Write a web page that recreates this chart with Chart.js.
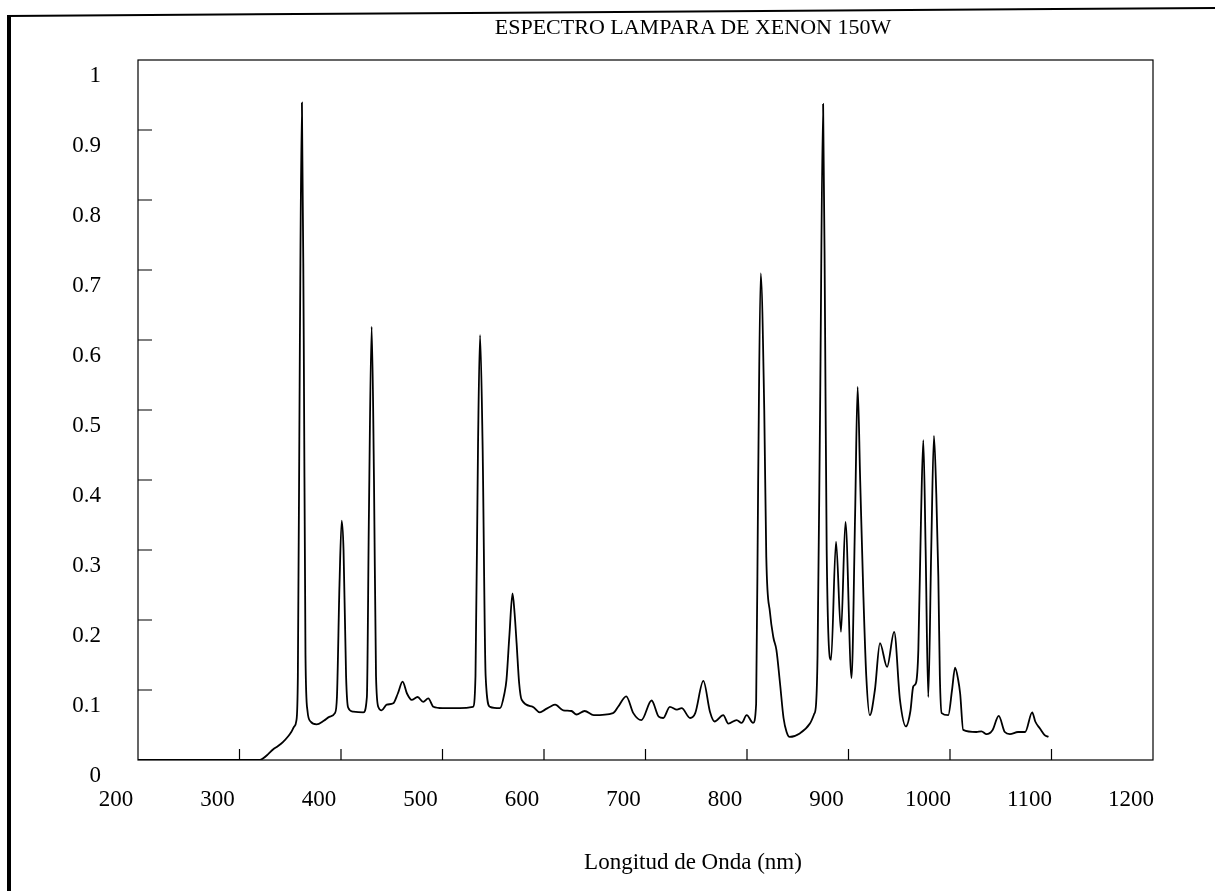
<!DOCTYPE html>
<html>
<head>
<meta charset="utf-8">
<title>Espectro lampara de xenon 150W</title>
<script src="https://cdn.jsdelivr.net/npm/chart.js@4.4.1/dist/chart.umd.min.js"></script>
<style>
  html, body { margin: 0; padding: 0; background: #fff; }
  #wrap { position: relative; width: 1215px; height: 891px; overflow: hidden;
          font-family: 'Liberation Serif', 'Times New Roman', serif; color: #000; }
  /* scanned page edges: thick left side, thin slightly tilted top */
  .edge-left { position: absolute; left: 7px; top: 15px; width: 4px; bottom: 0; background: #000; }
  .edge-top { position: absolute; left: 7px; top: 15px; width: 1215px; height: 2px; background: #000;
              transform-origin: 0 0; transform: rotate(-0.38deg); }
  canvas { position: absolute; left: 0; top: 0; }
  .title { position: absolute; white-space: nowrap; transform: translateX(-50%); line-height: 1.2; }
  #chartTitle { left: 693px; top: 14px; font-size: 22px; }
  #xTitle { left: 693px; top: 848px; font-size: 23px; }
</style>
</head>
<body>
<div id="wrap">
  <div class="edge-left"></div>
  <div class="edge-top"></div>
  <canvas id="spectrum" width="1215" height="891"></canvas>
  <div class="title" id="chartTitle">ESPECTRO LAMPARA DE XENON 150W</div>
  <div class="title" id="xTitle">Longitud de Onda (nm)</div>
</div>
<script>
// Data (wavelength in nm, relative intensity)
const wavelengths = [
  200, 320, 323, 328, 333, 338, 343, 348, 351, 354, 356,
  357.5, 359.5, 361.5, 363.3, 365, 367, 370, 376, 383, 389, 394,
  396, 398.5, 400.7, 402.5, 405, 407, 412, 422,
  425.5, 427.5, 430.2, 432.5, 434.5, 437, 440, 445, 451.5, 456, 460.7, 465,
  469.6, 475.5, 481, 486, 491, 500, 517, 530,
  532.5, 535, 537, 539.5, 542.5, 546.8, 556.7, 561, 563, 566, 569, 571, 573,
  575.5, 578, 589, 596, 601, 606, 611, 619, 627, 632, 640, 649, 668, 673,
  681, 688, 696, 706, 713, 717.5, 724, 731, 735.6, 744, 749, 757, 763.5,
  768, 776.6, 781.6, 789.8, 794.7, 799.7, 806,
  809, 811, 813.5, 817, 819, 822.7, 826, 829, 832.5, 836, 839, 842, 852,
  862, 866, 868, 869.5, 872, 875, 877, 878.5, 882.8, 887.7, 892.6, 897,
  903, 906.5, 909, 911.5, 914.6, 917.5, 921, 926, 931, 938, 945, 950.7,
  956.6, 961, 963.8, 966.5, 968.8, 971.5, 973.7, 976, 978.6, 981.5, 984.2,
  986.5, 988.5, 990, 991.8, 998.3, 1002, 1005, 1008, 1010, 1013, 1026,
  1031, 1036, 1042, 1048, 1054, 1059, 1067, 1074, 1081, 1084, 1088.6,
  1093, 1097
];
const intensity = [
  0, 0, 0.002, 0.008, 0.015, 0.020, 0.026, 0.034, 0.040, 0.048, 0.056,
  0.12, 0.6, 0.939, 0.6, 0.15, 0.07, 0.055, 0.051, 0.056, 0.062, 0.067,
  0.09, 0.25, 0.342, 0.3, 0.12, 0.075, 0.069, 0.068,
  0.09, 0.35, 0.619, 0.4, 0.12, 0.075, 0.071, 0.079, 0.081, 0.095, 0.112, 0.095,
  0.086, 0.09, 0.083, 0.088, 0.076, 0.074, 0.074, 0.076,
  0.12, 0.45, 0.607, 0.45, 0.12, 0.076, 0.074, 0.095, 0.114, 0.18, 0.238, 0.21, 0.167,
  0.11, 0.086, 0.076, 0.068, 0.072, 0.076, 0.079, 0.071, 0.070, 0.065, 0.070, 0.064, 0.067, 0.076,
  0.091, 0.067, 0.057, 0.085, 0.062, 0.060, 0.076, 0.072, 0.074, 0.060, 0.067, 0.113, 0.069,
  0.055, 0.064, 0.052, 0.057, 0.053, 0.064, 0.053,
  0.08, 0.4, 0.695, 0.5, 0.29, 0.21, 0.175, 0.157, 0.11, 0.06, 0.04, 0.033, 0.038,
  0.052, 0.065, 0.079, 0.15, 0.5, 0.937, 0.6, 0.3, 0.143, 0.312, 0.183, 0.34,
  0.117, 0.35, 0.533, 0.4, 0.238, 0.12, 0.064, 0.1, 0.167, 0.133, 0.183, 0.086,
  0.048, 0.07, 0.105, 0.11, 0.157, 0.35, 0.457, 0.3, 0.09, 0.3, 0.463,
  0.38, 0.262, 0.12, 0.067, 0.064, 0.1, 0.132, 0.115, 0.095, 0.043, 0.040,
  0.041, 0.037, 0.043, 0.063, 0.040, 0.037, 0.040, 0.040, 0.068, 0.055, 0.045,
  0.036, 0.033
];
const xTicks = [200, 300, 400, 500, 600, 700, 800, 900, 1000, 1100, 1200];
const yTicks = [0, 0.1, 0.2, 0.3, 0.4, 0.5, 0.6, 0.7, 0.8, 0.9, 1];

const serif = "'Liberation Serif', 'Times New Roman', serif";

// Frame round the plot area plus the short inward tick marks of the original
const plotFrame = {
  id: 'plotFrame',
  afterDraw(chart) {
    const { ctx, chartArea: a, scales } = chart;
    ctx.save();
    ctx.strokeStyle = '#000';
    ctx.lineWidth = 1.2;
    ctx.strokeRect(a.left, a.top, a.right - a.left, a.bottom - a.top);
    ctx.beginPath();
    xTicks.slice(1, -1).forEach(v => {
      const x = scales.x.getPixelForValue(v);
      ctx.moveTo(x, a.bottom);
      ctx.lineTo(x, a.bottom - 11);
    });
    yTicks.slice(1, -1).forEach(v => {
      const y = scales.y.getPixelForValue(v);
      ctx.moveTo(a.left, y);
      ctx.lineTo(a.left + 14, y);
    });
    ctx.stroke();
    ctx.restore();
  }
};

new Chart(document.getElementById('spectrum'), {
  type: 'line',
  data: {
    datasets: [{
      data: wavelengths.map((w, i) => ({ x: w, y: intensity[i] })),
      borderColor: '#000',
      borderWidth: 1.8,
      pointRadius: 0,
      fill: false,
      cubicInterpolationMode: 'monotone'
    }]
  },
  options: {
    responsive: false,
    animation: false,
    layout: { padding: { left: 40, right: 62, top: 60, bottom: 0 } },
    plugins: {
      legend: { display: false },
      tooltip: { enabled: false },
      title: { display: false }
    },
    scales: {
      x: {
        type: 'linear',
        min: 200,
        max: 1200,
        afterFit: s => { s.height = 131; },
        afterBuildTicks: s => { s.ticks = xTicks.map(v => ({ value: v })); },
        grid: { display: false, drawTicks: false },
        border: { display: false },
        ticks: {
          color: '#000',
          font: { family: serif, size: 23 },
          padding: 26,
          labelOffset: -22,
          maxRotation: 0,
          callback: v => String(v)
        }
      },
      y: {
        min: 0,
        max: 1,
        afterFit: s => { s.width = 98; },
        afterBuildTicks: s => { s.ticks = yTicks.map(v => ({ value: v })); },
        grid: { display: false, drawTicks: false },
        border: { display: false },
        ticks: {
          color: '#000',
          font: { family: serif, size: 23 },
          padding: 37,
          labelOffset: 16,
          callback: v => String(+v.toFixed(1))
        }
      }
    }
  },
  plugins: [plotFrame]
});
</script>
</body>
</html>
